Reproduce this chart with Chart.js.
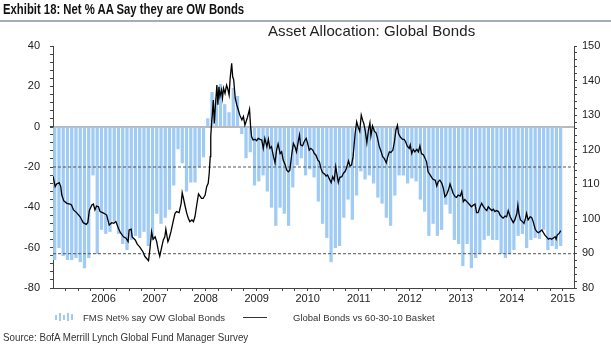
<!DOCTYPE html>
<html>
<head>
<meta charset="utf-8">
<script src="https://cdn.jsdelivr.net/npm/chart.js@4.4.1/dist/chart.umd.min.js"></script>
<style>
  body { margin: 0; background: #fff; }
  #page { position: relative; width: 611px; height: 361px; overflow: hidden; font-family: "Liberation Sans", Arial, sans-serif; }
  #chart { position: absolute; left: 0; top: 0; }
  .txt { position: absolute; white-space: nowrap; transform-origin: 0 0; }
  #title { left: 3px; top: 1px; font: bold 14.5px "Liberation Sans", sans-serif; color: #111; transform: scaleX(0.78); }
  #rule { position: absolute; left: 0; top: 20px; width: 611px; height: 2px; background: #a3aebd; }
  #sub { left: 268px; top: 22px; font-size: 15px; color: #222; letter-spacing: 0.1px; }
  #legend { left: 55px; top: 311px; font-size: 9.5px; color: #333; }
  #legend span { display: inline-block; vertical-align: middle; }
  .bi { width: 2px; background: #9fcbf5; margin-right: 2px; }
  .li { width: 24px; height: 1px; background: #333; margin: 0 26px 0 18px; }
  #source { left: 3px; top: 331px; font: 11.5px "Liberation Sans", sans-serif; color: #333; transform: scaleX(0.85); }
</style>
</head>
<body>
<div id="page">
  <canvas id="chart" width="611" height="361"></canvas>
  <div class="txt" id="title">Exhibit 18: Net % AA Say they are OW Bonds</div>
  <div id="rule"></div>
  <div class="txt" id="sub">Asset Allocation: Global Bonds</div>
  <div class="txt" id="legend">
    <span class="bi" style="height:5px"></span><span class="bi" style="height:8px"></span><span class="bi" style="height:5px"></span><span class="bi" style="height:8px"></span><span class="bi" style="height:6px;margin-right:10px"></span><span>FMS Net% say OW Global Bonds</span><span class="li"></span><span>Global Bonds vs 60-30-10 Basket</span>
  </div>
  <div class="txt" id="source">Source: BofA Merrill Lynch Global Fund Manager Survey</div>
</div>
<script>
// monthly survey, first bar is July 2005
const firstYear = 2005;
const firstMonth = 7;

// FMS net % of asset allocators overweight bonds (left axis)
const barValues = [
  -66, -60, -64, -66, -66, -65, -67, -70, -65, -24, -63, -51,
  -53, -52, -47, -53, -58, -61, -56, -54, -55, -52, -59, -56,
  -43, -48, -45, -41, -29, -11, -18, -32, -27.5, -27.5, -20, -15,
  4, 17, 14, 21, 11, 7, 19, 15, -3.5, -15.5, -12.5, -29,
  -27, -24, -32, -40, -49, -40, -43, -49, -30, -19, -15.5, -24,
  -21, -25, -37, -48, -55, -67, -60, -59, -45, -36, -46, -34,
  -22, -26, -24, -28, -35, -38, -45, -49, -34, -24, -24, -28,
  -25.5, -27, -36, -42, -54, -48, -54, -51, -38.5, -43, -56, -58,
  -69, -58, -70, -65, -63, -56, -54, -56, -56, -63, -65, -63,
  -61, -54, -53, -60, -56, -55, -55.5, -51, -61, -59, -60.5, -59
];

// Global bonds vs 60-30-10 basket (right axis), dates in decimal years
const lineYears = [
  2005.51, 2005.55, 2005.58, 2005.63, 2005.66, 2005.68, 2005.72, 2005.78, 2005.84, 2005.87, 2005.91, 2005.97,
  2006.04, 2006.10, 2006.16, 2006.19, 2006.22, 2006.27, 2006.30, 2006.33, 2006.36, 2006.40, 2006.43, 2006.48,
  2006.53, 2006.56, 2006.61, 2006.66, 2006.70, 2006.74, 2006.79, 2006.83, 2006.89, 2006.94, 2006.98, 2007.00,
  2007.04, 2007.06, 2007.12, 2007.16, 2007.21, 2007.27, 2007.31, 2007.34, 2007.38, 2007.41, 2007.44, 2007.47,
  2007.51, 2007.54, 2007.57, 2007.60, 2007.64, 2007.67, 2007.70, 2007.72, 2007.76, 2007.78, 2007.82, 2007.87,
  2007.90, 2007.93, 2007.98, 2008.02, 2008.04, 2008.07, 2008.10, 2008.13, 2008.16, 2008.19, 2008.23, 2008.26,
  2008.29, 2008.32, 2008.36, 2008.39, 2008.42, 2008.45, 2008.49, 2008.52, 2008.55, 2008.57, 2008.59, 2008.60,
  2008.62, 2008.63, 2008.65, 2008.67, 2008.69, 2008.72, 2008.74, 2008.76, 2008.78, 2008.81, 2008.83, 2008.85,
  2008.88, 2008.91, 2008.93, 2008.96, 2008.98, 2009.01, 2009.03, 2009.05, 2009.08, 2009.11, 2009.14, 2009.17,
  2009.21, 2009.24, 2009.27, 2009.32, 2009.36, 2009.38, 2009.40, 2009.43, 2009.47, 2009.50, 2009.53, 2009.57,
  2009.60, 2009.63, 2009.66, 2009.70, 2009.73, 2009.76, 2009.79, 2009.83, 2009.86, 2009.89, 2009.92, 2009.96,
  2009.99, 2010.02, 2010.06, 2010.09, 2010.12, 2010.15, 2010.19, 2010.22, 2010.25, 2010.28, 2010.32, 2010.34,
  2010.36, 2010.40, 2010.43, 2010.47, 2010.50, 2010.53, 2010.56, 2010.60, 2010.63, 2010.66, 2010.70, 2010.73,
  2010.76, 2010.79, 2010.83, 2010.86, 2010.89, 2010.92, 2010.96, 2010.99, 2011.02, 2011.05, 2011.07, 2011.10,
  2011.13, 2011.17, 2011.20, 2011.23, 2011.26, 2011.30, 2011.33, 2011.36, 2011.39, 2011.43, 2011.46, 2011.49,
  2011.52, 2011.55, 2011.58, 2011.60, 2011.63, 2011.66, 2011.69, 2011.72, 2011.74, 2011.77, 2011.81, 2011.84,
  2011.87, 2011.90, 2011.94, 2011.97, 2012.00, 2012.04, 2012.07, 2012.10, 2012.13, 2012.17, 2012.20, 2012.23,
  2012.26, 2012.28, 2012.32, 2012.36, 2012.39, 2012.42, 2012.45, 2012.49, 2012.51, 2012.54, 2012.57, 2012.60,
  2012.64, 2012.67, 2012.70, 2012.73, 2012.77, 2012.80, 2012.83, 2012.86, 2012.90, 2012.93, 2012.96, 2013.00,
  2013.03, 2013.06, 2013.09, 2013.13, 2013.16, 2013.19, 2013.22, 2013.26, 2013.29, 2013.32, 2013.35, 2013.39,
  2013.42, 2013.45, 2013.49, 2013.52, 2013.55, 2013.58, 2013.62, 2013.65, 2013.68, 2013.71, 2013.75, 2013.78,
  2013.81, 2013.84, 2013.88, 2013.91, 2013.94, 2013.98, 2014.01, 2014.04, 2014.07, 2014.11, 2014.14, 2014.17,
  2014.20, 2014.24, 2014.27, 2014.30, 2014.33, 2014.37, 2014.40, 2014.43, 2014.47, 2014.50, 2014.53, 2014.56,
  2014.60, 2014.62, 2014.64, 2014.67, 2014.71, 2014.74, 2014.77, 2014.79, 2014.82, 2014.86, 2014.89, 2014.92,
  2014.96, 2014.99, 2015.02, 2015.05, 2015.09, 2015.12, 2015.15, 2015.18, 2015.22, 2015.25, 2015.28, 2015.31,
  2015.35, 2015.37, 2015.39, 2015.43, 2015.46
];
const lineValues = [
  112.3, 109.3, 110.1, 110.5, 109.3, 106.9, 105.2, 104.5, 104.3, 104.0, 102.6, 101.8,
  100.6, 98.9, 98.4, 98.9, 102.4, 104.0, 104.3, 102.6, 103.7, 103.5, 102.1, 101.8,
  101.4, 101.1, 98.2, 98.9, 98.7, 99.2, 97.3, 96.0, 94.8, 94.4, 93.4, 96.8,
  97.0, 94.8, 93.9, 92.7, 91.8, 90.5, 89.1, 88.6, 87.9, 91.5, 96.3, 94.1,
  94.8, 93.4, 91.0, 89.2, 91.9, 93.9, 94.8, 97.0, 93.4, 94.1, 96.3, 99.7,
  101.6, 102.1, 101.8, 104.5, 107.6, 105.6, 103.5, 101.6, 100.2, 99.2, 99.7, 99.2,
  100.6, 103.5, 107.2, 106.6, 105.9, 105.9, 106.9, 109.3, 110.3, 113.2, 118.0, 123.8,
  128.6, 130.0, 134.4, 127.6, 132.5, 138.7, 133.0, 138.2, 135.4, 137.3, 134.9, 137.8,
  136.3, 138.7, 137.8, 135.8, 140.6, 145.0, 141.1, 140.2, 134.9, 133.0, 131.5, 130.0,
  128.6, 129.6, 127.1, 129.4, 131.7, 126.9, 123.8, 122.8, 123.0, 122.6, 123.3, 123.0,
  122.8, 120.4, 123.3, 120.9, 123.0, 120.4, 120.9, 118.0, 116.2, 119.9, 121.7, 118.9,
  119.4, 117.0, 115.6, 114.1, 113.6, 114.1, 118.9, 121.8, 120.9, 119.4, 122.8, 124.3,
  121.4, 121.1, 122.3, 123.3, 121.8, 119.9, 120.4, 119.9, 118.9, 118.5, 117.0, 116.5,
  114.6, 113.4, 113.0, 112.4, 112.7, 111.7, 110.5, 112.2, 111.2, 115.1, 113.2, 110.5,
  112.0, 112.2, 113.2, 113.6, 114.6, 116.8, 115.3, 115.6, 118.0, 124.7, 128.1, 126.5,
  125.3, 130.0, 128.4, 127.6, 125.3, 122.0, 125.7, 127.8, 124.0, 126.9, 125.3, 124.9,
  123.3, 121.1, 119.4, 118.0, 117.5, 116.2, 118.0, 119.4, 119.2, 119.9, 122.3, 125.7,
  127.1, 124.7, 123.6, 123.0, 123.0, 122.3, 121.1, 120.4, 121.4, 118.9, 120.1, 119.4,
  120.1, 119.4, 121.1, 118.9, 118.5, 117.5, 116.5, 113.6, 112.7, 112.0, 111.4, 111.2,
  109.5, 110.8, 111.2, 110.3, 108.8, 106.4, 106.9, 108.4, 110.1, 108.8, 107.4, 106.4,
  106.2, 106.9, 106.6, 107.9, 105.0, 105.6, 105.0, 104.5, 104.0, 103.5, 104.0, 104.3,
  101.8, 101.8, 103.5, 104.5, 103.7, 102.8, 102.4, 103.5, 103.0, 102.4, 102.8, 102.1,
  102.4, 102.1, 101.1, 100.6, 100.2, 100.8, 100.6, 102.4, 100.6, 99.7, 98.9, 99.7,
  101.6, 104.0, 101.6, 99.7, 99.2, 98.7, 100.2, 101.6, 99.7, 100.6, 100.4, 99.2,
  97.0, 96.3, 96.0, 96.3, 96.8, 96.0, 95.3, 94.8, 94.1, 94.4, 94.1, 94.4,
  94.8, 94.1, 95.3, 95.8, 96.6
];

// dashed guide levels on the left axis
const guideLevels = [-20, -63];

const yearLabels = [2006, 2007, 2008, 2009, 2010, 2011, 2012, 2013, 2014, 2015];

const xMin = 2005.508;
const xMax = 2015.72;

const barPoints = barValues.map((v, i) => ({ x: firstYear + (firstMonth - 1 + i + 0.5) / 12, y: v }));
const linePoints = lineYears.map((x, i) => ({ x: x, y: lineValues[i] }));

const guideSets = guideLevels.map(g => ({
  type: 'line',
  data: [{ x: xMin, y: g }, { x: xMax, y: g }],
  yAxisID: 'yL',
  borderColor: '#555',
  borderWidth: 1,
  borderDash: [3, 2],
  pointRadius: 0,
  order: 1
}));

const xTicks = [];
for (let q = Math.ceil(xMin * 4); q <= Math.floor(xMax * 4); q++) xTicks.push({ value: q / 4 });

const ctx = document.getElementById('chart');
new Chart(ctx, {
  type: 'bar',
  data: {
    datasets: [
      {
        type: 'line',
        label: 'Global Bonds vs 60-30-10 Basket',
        data: linePoints,
        yAxisID: 'yR',
        borderColor: '#000',
        borderWidth: 1.3,
        pointRadius: 0,
        tension: 0,
        order: 0
      },
      ...guideSets,
      {
        label: 'FMS Net% say OW Global Bonds',
        data: barPoints,
        yAxisID: 'yL',
        backgroundColor: '#9fcbf5',
        barThickness: 2.6,
        order: 2
      }
    ]
  },
  options: {
    responsive: false,
    animation: false,
    layout: { padding: { top: 46, left: 0, right: 0, bottom: 0 } },
    plugins: {
      legend: { display: false },
      tooltip: { enabled: false }
    },
    scales: {
      x: {
        type: 'linear',
        min: xMin,
        max: xMax,
        offset: false,
        afterBuildTicks: s => { s.ticks = xTicks.slice(); },
        afterFit: s => { s.height = 73; },
        ticks: {
          autoSkip: false,
          maxRotation: 0,
          padding: 1,
          color: '#222',
          font: { family: 'Liberation Sans', size: 11 },
          callback: v => {
            const y = Math.floor(v + 1e-6);
            return Math.abs(v - y - 0.5) < 1e-6 && yearLabels.includes(y) ? String(y) : '';
          }
        },
        grid: { drawOnChartArea: false, offset: false, tickLength: 3, color: '#444' },
        border: { color: '#444', width: 1 }
      },
      yL: {
        position: 'left',
        min: -80,
        max: 40,
        afterFit: s => { s.width = 53; },
        ticks: {
          stepSize: 4,
          maxTicksLimit: 100,
          autoSkip: false,
          padding: 10,
          color: '#222',
          font: { family: 'Liberation Sans', size: 11 },
          callback: v => (v % 20 === 0 ? String(v) : '')
        },
        grid: {
          tickLength: 3,
          tickColor: '#444',
          color: c => (c.tick && c.tick.value === 0 ? '#b9b9b9' : 'rgba(0,0,0,0)'),
          lineWidth: c => (c.tick && c.tick.value === 0 ? 2 : 1)
        },
        border: { color: '#444', width: 1 }
      },
      yR: {
        position: 'right',
        min: 80,
        max: 150,
        afterFit: s => { s.width = 37; },
        ticks: {
          stepSize: 2,
          maxTicksLimit: 100,
          autoSkip: false,
          padding: 5,
          color: '#222',
          font: { family: 'Liberation Sans', size: 11 },
          callback: v => (v % 10 === 0 ? String(v) : '')
        },
        grid: { drawOnChartArea: false, tickLength: 3, color: '#444' },
        border: { color: '#444', width: 1 }
      }
    }
  }
});
</script>
</body>
</html>
